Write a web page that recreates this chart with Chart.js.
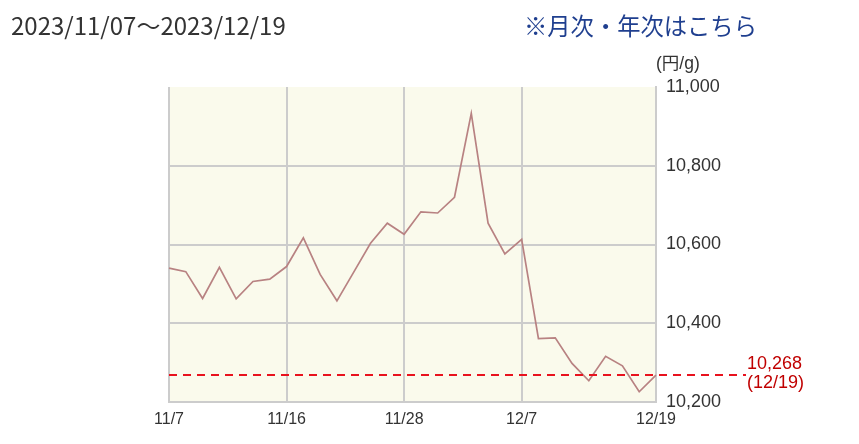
<!DOCTYPE html>
<html>
<head>
<meta charset="utf-8">
<script src="https://cdn.jsdelivr.net/npm/chart.js@4/dist/chart.umd.min.js"></script>
<style>
  html, body { margin: 0; padding: 0; background: #fff; }
  #wrap { position: relative; width: 859px; height: 444px; overflow: hidden; }
  #c { position: absolute; left: 0; top: 0; }
  .title { position: absolute; left: 11px; top: 10px; font-family: "Noto Sans CJK JP", "Noto Sans", sans-serif; font-size: 24px; line-height: 30px; color: #333; white-space: nowrap; }
  .link { position: absolute; left: 524px; top: 10px; font-family: "Noto Sans CJK JP", sans-serif; font-size: 23.3px; line-height: 30px; color: #1f3f8f; white-space: nowrap; }
  .unit { position: absolute; left: 656px; top: 52px; font-family: "Liberation Sans", Arial, "Noto Sans CJK JP", sans-serif; font-size: 17.5px; line-height: 22px; color: #333; white-space: nowrap; }
</style>
</head>
<body>
<div id="wrap">
  <canvas id="c" width="859" height="444"></canvas>
  <div class="title">2023/11/07～2023/12/19</div>
  <div class="link">※月次・年次はこちら</div>
  <div class="unit">(円/g)</div>
</div>
<script>
// ---- data ----
const dates = ["11/7","11/8","11/9","11/10","11/13","11/14","11/15","11/16","11/17","11/20",
               "11/21","11/22","11/24","11/27","11/28","11/29","11/30","12/1","12/4","12/5",
               "12/6","12/7","12/8","12/11","12/12","12/13","12/14","12/15","12/18","12/19"];
const prices = [10540,10531,10463,10542,10462,10506,10512,10544,10617,10524,
                10457,10530,10603,10654,10626,10683,10680,10720,10933,10654,
                10576,10613,10361,10363,10298,10254,10316,10292,10226,10268];
const labelledDates = ["11/7","11/16","11/28","12/7","12/19"];
const yTicks = [10200,10400,10600,10800,11000];
const currentPrice = 10268;
const currentDate = "12/19";

const fmt = v => v.toLocaleString('en-US');

const plotBg = {
  id: 'plotBg',
  beforeDraw(chart) {
    const {ctx, chartArea: a} = chart;
    ctx.save();
    ctx.fillStyle = '#fafaec';
    ctx.fillRect(a.left, a.top, a.right - a.left, a.bottom - a.top);
    ctx.restore();
  }
};

const currentLine = {
  id: 'currentLine',
  afterDatasetsDraw(chart) {
    const {ctx, chartArea: a, scales} = chart;
    const y = Math.round(scales.y.getPixelForValue(currentPrice));
    ctx.save();
    ctx.strokeStyle = '#e8121e';
    ctx.lineWidth = 2;
    ctx.setLineDash([8, 6]);
    ctx.beginPath();
    ctx.moveTo(a.left, y);
    ctx.lineTo(a.right + 90, y);
    ctx.stroke();
    ctx.setLineDash([]);
    ctx.fillStyle = '#c00000';
    ctx.font = '18px "Liberation Sans", Arial, sans-serif';
    ctx.textAlign = 'left';
    ctx.textBaseline = 'middle';
    ctx.fillText(fmt(currentPrice), a.right + 91, y - 11);
    ctx.fillText('(' + currentDate + ')', a.right + 91, y + 8);
    ctx.restore();
  }
};

new Chart(document.getElementById('c'), {
  type: 'line',
  data: {
    labels: dates,
    datasets: [{
      data: prices,
      borderColor: '#b88282',
      borderWidth: 1.7,
      pointRadius: 0,
      pointHoverRadius: 0,
      tension: 0,
      fill: false
    }]
  },
  options: {
    responsive: false,
    animation: false,
    events: [],
    layout: { padding: { left: 169, top: 87, right: 103, bottom: 12 } },
    plugins: { legend: { display: false }, tooltip: { enabled: false } },
    scales: {
      x: {
        type: 'category',
        offset: false,
        afterFit(s) { s.height = 30; },
        border: { display: true, color: '#cccccc', width: 2 },
        grid: {
          drawTicks: false,
          lineWidth: 2,
          color: c => labelledDates.includes(dates[c.index]) ? '#cccccc' : 'rgba(0,0,0,0)'
        },
        ticks: {
          autoSkip: false,
          maxRotation: 0,
          padding: 8,
          color: '#333',
          font: { family: '"Liberation Sans", Arial, sans-serif', size: 16 },
          callback: (v, i) => labelledDates.includes(dates[i]) ? dates[i] : ''
        }
      },
      y: {
        position: 'right',
        min: yTicks[0],
        max: yTicks[yTicks.length - 1],
        afterFit(s) { s.width = 100; },
        afterBuildTicks(s) { s.ticks = yTicks.map(v => ({ value: v })); },
        border: { display: true, color: '#cccccc', width: 2 },
        grid: {
          drawTicks: false,
          lineWidth: 2,
          color: c => (c.tick && c.tick.value === yTicks[yTicks.length - 1]) ? 'rgba(0,0,0,0)' : '#cccccc'
        },
        ticks: {
          padding: 10,
          color: '#333',
          font: { family: '"Liberation Sans", Arial, sans-serif', size: 18 },
          callback: v => fmt(v)
        }
      }
    }
  },
  plugins: [plotBg, currentLine]
});
</script>
</body>
</html>
